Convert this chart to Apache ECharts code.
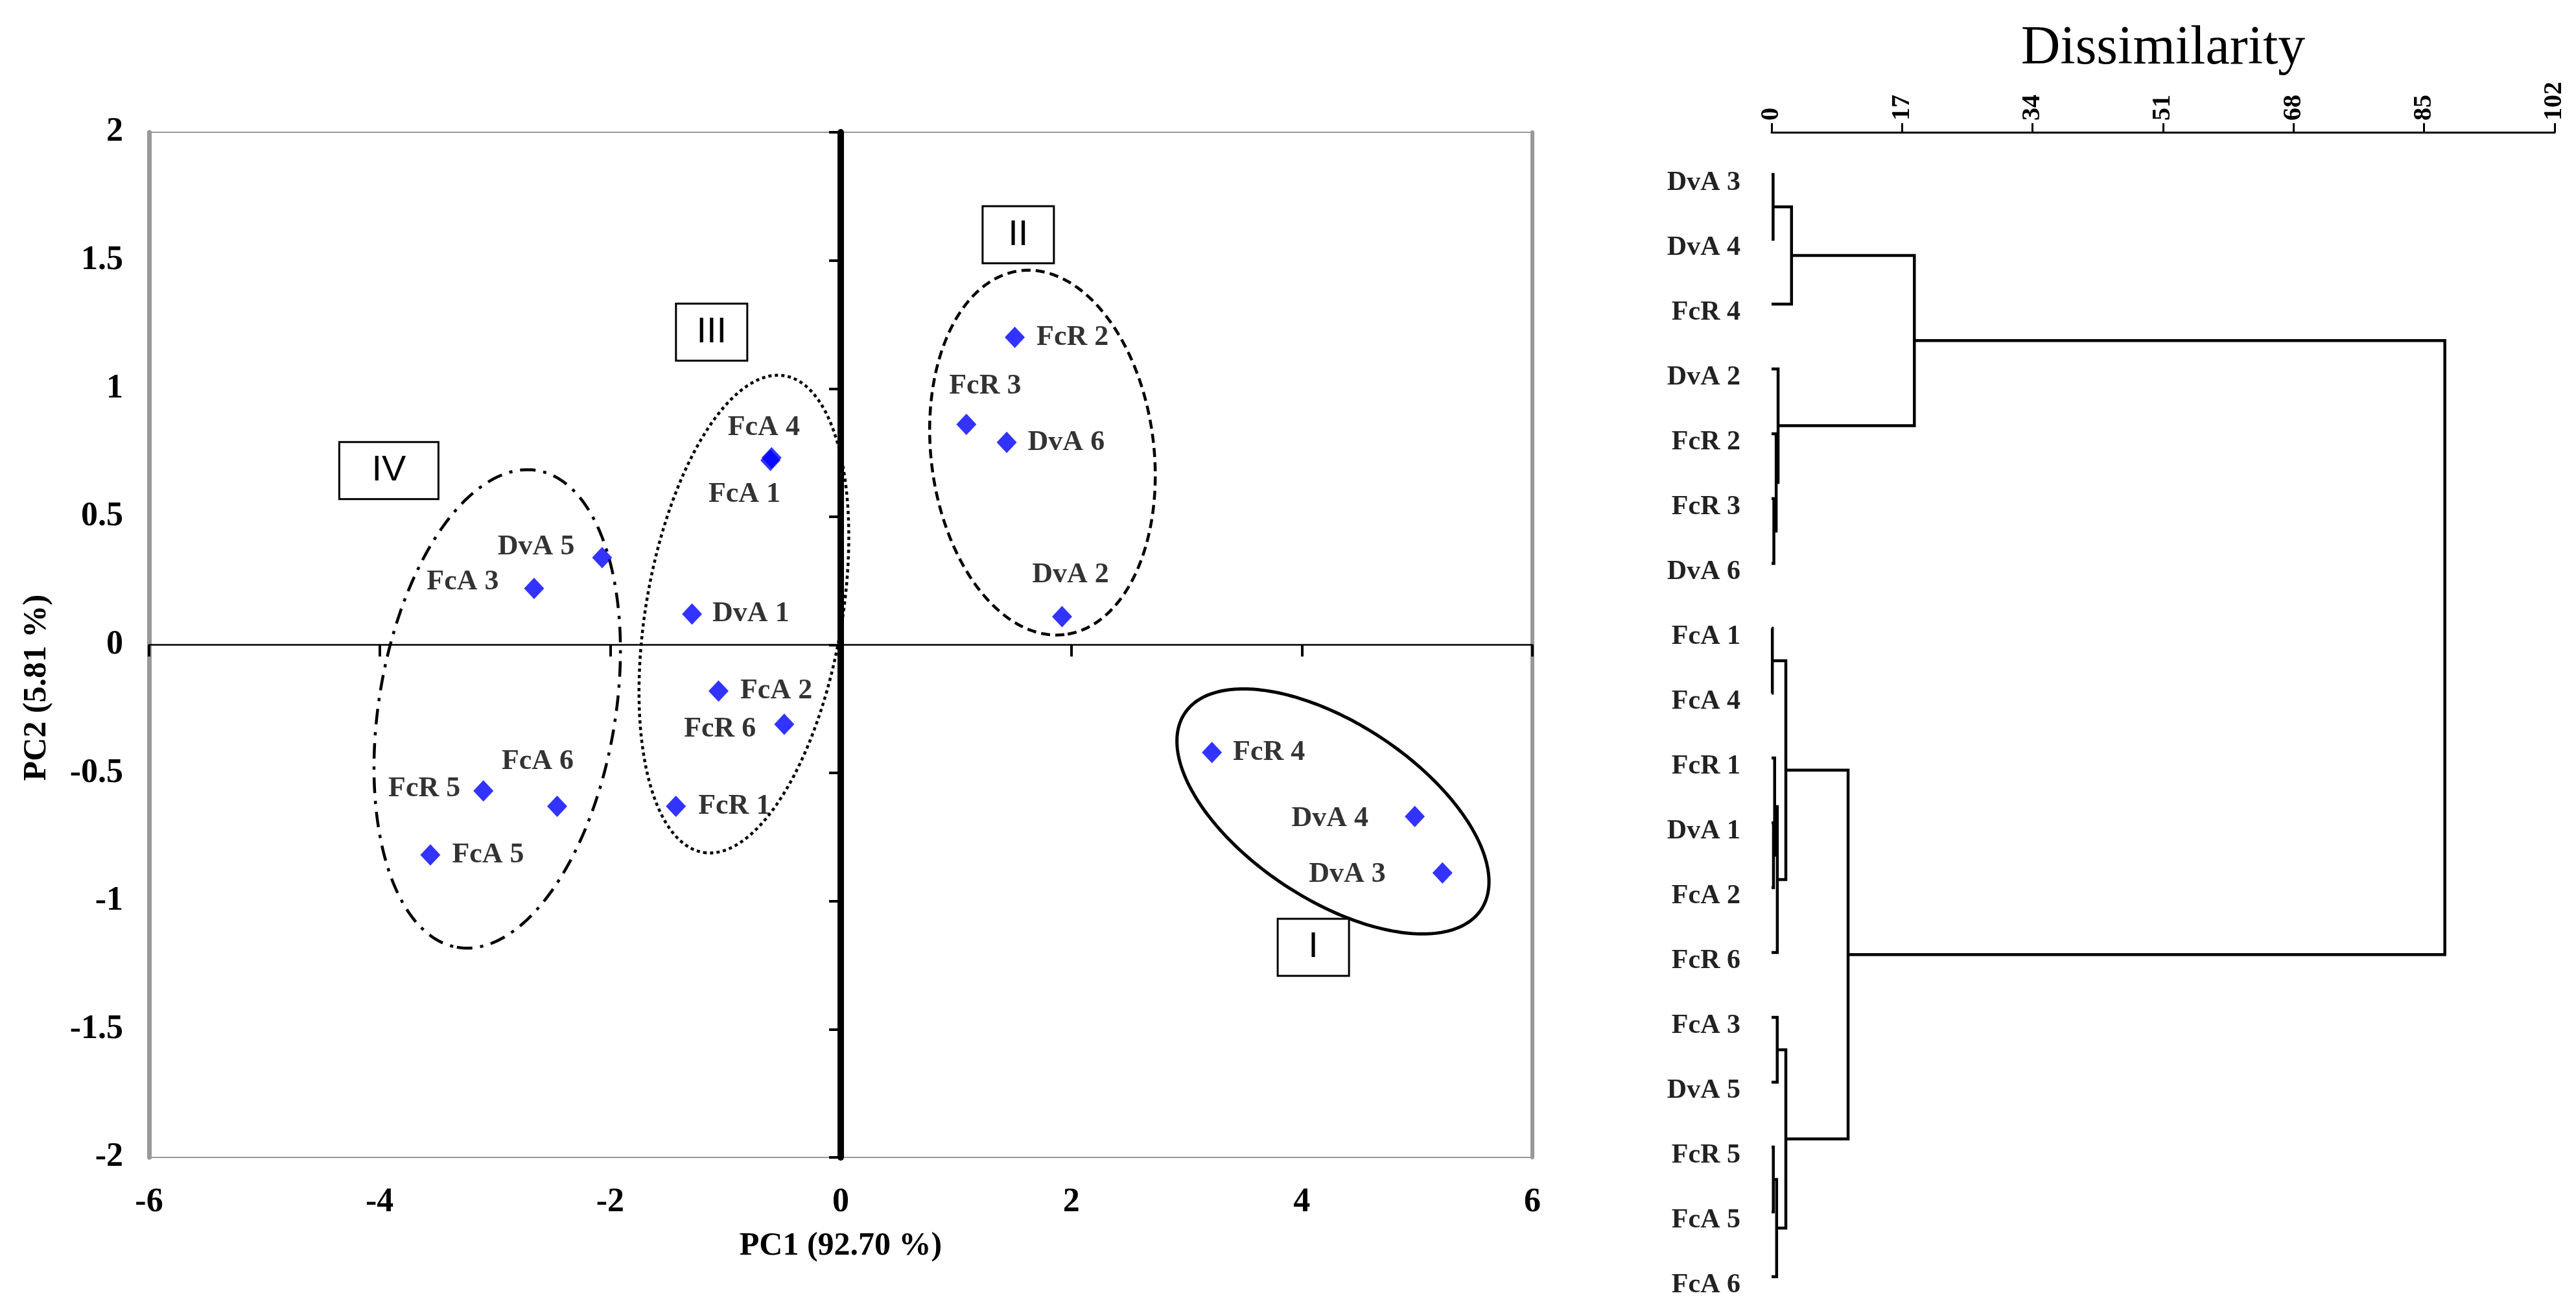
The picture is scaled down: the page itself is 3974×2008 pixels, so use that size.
<!DOCTYPE html>
<html><head><meta charset="utf-8">
<script src="https://cdn.jsdelivr.net/npm/echarts@6/dist/echarts.min.js"></script>
<style>html,body{margin:0;padding:0;background:#fff}#c{width:3974px;height:2008px}</style>
</head><body><div id="c"></div>
<script>
// ---------- PCA score plot data ----------
const pcaNames = ['FcR 2','FcR 3','DvA 6','DvA 2','FcA 4','FcA 1','DvA 1','FcA 2','FcR 6','FcR 1','DvA 5','FcA 3','FcR 5','FcA 6','FcA 5','FcR 4','DvA 4','DvA 3'];
const pc1 = [1.51, 1.09, 1.44, 1.92, -0.60, -0.61, -1.29, -1.06, -0.49, -1.43, -2.07, -2.66, -3.10, -2.46, -3.56, 3.22, 4.98, 5.22];
const pc2 = [1.20, 0.86, 0.79, 0.11, 0.73, 0.72, 0.12, -0.18, -0.31, -0.63, 0.34, 0.22, -0.57, -0.63, -0.82, -0.42, -0.67, -0.89];
const pc1Ticks = [-6, -4, -2, 0, 2, 4, 6];
const pc2Ticks = [-2, -1.5, -1, -0.5, 0, 0.5, 1, 1.5, 2];

// cluster ellipses (data units): centre and two conjugate semi-axis vectors
const clusterNames = ['I', 'II', 'III', 'IV'];
const ellipseCenter = [[4.27, -0.65], [1.75, 0.75], [-0.84, 0.12], [-2.98, -0.25]];
const ellipseAxisU = [[1.29, -0.38], [0.19, -0.71], [-0.35, -0.93], [-0.35, -0.93]];
const ellipseAxisV = [[-0.41, -0.29], [-0.96, -0.05], [0.84, -0.06], [1.01, -0.08]];
const clusterTagAt = [[4.10, -1.18], [1.54, 1.60], [-1.12, 1.22], [-3.92, 0.68]];

// ---------- dendrogram data ----------
const leaves = ['DvA 3','DvA 4','FcR 4','DvA 2','FcR 2','FcR 3','DvA 6','FcA 1','FcA 4','FcR 1','DvA 1','FcA 2','FcR 6','FcA 3','DvA 5','FcR 5','FcA 5','FcA 6'];
// [child a, child b, dissimilarity]; ids >= leaves.length are earlier merges
const merges = [
  [0, 1, 0.2], [18, 2, 2.6], [5, 6, 0.3], [4, 20, 0.6], [3, 21, 0.85], [19, 22, 18.6],
  [7, 8, 0.1], [10, 11, 0.25], [9, 25, 0.4], [26, 12, 0.75], [24, 27, 1.86],
  [13, 14, 0.74], [15, 16, 0.23], [30, 17, 0.66], [29, 31, 1.86], [28, 32, 9.97],
  [23, 33, 87.7]
];
const dissimTicks = [0, 17, 34, 51, 68, 85, 102];

// ---------- styles ----------
const labelStyle = {
  'FcR 2': {p: 'right', d: 18}, 'FcR 3': {p: 'top', d: 20, o: [29, 0]},
  'DvA 6': {p: 'right', d: 17}, 'DvA 2': {p: 'top', d: 26, o: [13, 0]},
  'FcA 4': {p: 'top', d: 8, o: [-12, 0]}, 'FcA 1': {p: 'bottom', d: 14, o: [-40, 0]},
  'DvA 1': {p: 'right', d: 16}, 'FcA 2': {p: 'right', d: 18},
  'FcR 6': {p: 'left', d: 28, o: [0, 8]}, 'FcR 1': {p: 'right', d: 19},
  'DvA 5': {p: 'left', d: 27, o: [0, -16]}, 'FcA 3': {p: 'left', d: 39, o: [0, -10]},
  'FcR 5': {p: 'left', d: 20, o: [0, -3]}, 'FcA 6': {p: 'top', d: 30, o: [-30, 0]},
  'FcA 5': {p: 'right', d: 18}, 'FcR 4': {p: 'right', d: 17},
  'DvA 4': {p: 'left', d: 56, o: [0, 3]}, 'DvA 3': {p: 'left', d: 72, o: [0, 2]}
};
const ellipseDash = [null, [14, 8], [5, 5], [24, 12, 5, 12]];
const tagWidth = {'I': 110, 'II': 110, 'III': 110, 'IV': 153};
const serif = 'Liberation Serif';

// dendrogram node coordinates from merges
const nodeH = leaves.map(() => 0);
const nodeY = leaves.map((_, i) => i);
merges.forEach(m => { nodeH.push(m[2]); nodeY.push((nodeY[m[0]] + nodeY[m[1]]) / 2); });

const chart = echarts.init(document.getElementById('c'), null, {renderer: 'canvas'});

const pcaPoints = pcaNames.map((n, i) => {
  const s = labelStyle[n];
  return {
    name: n, value: [pc1[i], pc2[i]],
    label: {show: true, position: s.p, distance: s.d, offset: s.o || [0, 0]}
  };
});

const option = {
  backgroundColor: '#ffffff',
  animation: false,
  grid: [
    {left: 230, right: 1610, top: 204, bottom: 223, show: true, borderColor: '#999', borderWidth: 2, backgroundColor: '#fff'},
    {left: 2733, right: 33, top: 269, bottom: 39}
  ],
  xAxis: [
    {gridIndex: 0, type: 'value', position: 'bottom', min: pc1Ticks[0], max: pc1Ticks[pc1Ticks.length - 1], interval: 2,
     axisLine: {show: false, onZero: false}, axisTick: {show: false}, splitLine: {show: false},
     axisLabel: {margin: 44, fontFamily: serif, fontWeight: 'bold', fontSize: 52, color: '#000'},
     name: 'PC1 (92.70 %)', nameLocation: 'middle', nameGap: 112,
     nameTextStyle: {fontFamily: serif, fontWeight: 'bold', fontSize: 50, color: '#000'}},
    {gridIndex: 0, type: 'value', position: 'bottom', min: pc1Ticks[0], max: pc1Ticks[pc1Ticks.length - 1], interval: 2,
     axisLine: {show: true, onZero: true, lineStyle: {color: '#000', width: 2.5}},
     axisTick: {show: true, length: 18, lineStyle: {color: '#000', width: 4}},
     axisLabel: {show: false}, splitLine: {show: false}},
    {gridIndex: 1, type: 'value', position: 'top', min: dissimTicks[0], max: dissimTicks[dissimTicks.length - 1], interval: 17,
     offset: 65,
     axisLine: {show: true, onZero: false, lineStyle: {color: '#000', width: 3}},
     axisTick: {show: true, length: 14, lineStyle: {color: '#000', width: 3}},
     splitLine: {show: false},
     axisLabel: {rotate: -90, margin: 18, fontFamily: serif, fontWeight: 'bold', fontSize: 40, color: '#000'},
     name: 'Dissimilarity', nameLocation: 'middle', nameGap: 84,
     nameTextStyle: {fontFamily: serif, fontSize: 84, color: '#000'}}
  ],
  yAxis: [
    {gridIndex: 0, type: 'value', position: 'left', min: pc2Ticks[0], max: pc2Ticks[pc2Ticks.length - 1], interval: 0.5,
     axisLine: {show: true, onZero: false, lineStyle: {color: '#999', width: 7}},
     axisTick: {show: false}, splitLine: {show: false},
     axisLabel: {margin: 40, fontFamily: serif, fontWeight: 'bold', fontSize: 52, color: '#000'},
     name: 'PC2 (5.81 %)', nameLocation: 'middle', nameGap: 148,
     nameTextStyle: {fontFamily: serif, fontWeight: 'bold', fontSize: 50, color: '#000', padding: [0, 132, 0, 0]}},
    {gridIndex: 0, type: 'value', position: 'left', min: pc2Ticks[0], max: pc2Ticks[pc2Ticks.length - 1], interval: 0.5,
     axisLine: {show: true, onZero: true, lineStyle: {color: '#000', width: 10}},
     axisTick: {show: true, length: 18, lineStyle: {color: '#000', width: 4}},
     axisLabel: {show: false}, splitLine: {show: false}},
    {gridIndex: 0, type: 'value', position: 'right', min: pc2Ticks[0], max: pc2Ticks[pc2Ticks.length - 1], interval: 0.5,
     axisLine: {show: true, onZero: false, lineStyle: {color: '#999', width: 6}},
     axisTick: {show: false}, axisLabel: {show: false}, splitLine: {show: false}},
    {gridIndex: 1, type: 'value', position: 'left', min: 0, max: leaves.length - 1, interval: 1, inverse: true,
     axisLine: {show: false, onZero: false}, axisTick: {show: false}, splitLine: {show: false},
     axisLabel: {margin: 48, formatter: v => (leaves[v] ? '{leaf|' + leaves[v] + '}' : ''),
                 rich: {leaf: {fontFamily: serif, fontWeight: 'bold', fontSize: 42, color: '#222', padding: [26, 0, 0, 0]}}}}
  ],
  series: [
    {
      type: 'custom', xAxisIndex: 0, yAxisIndex: 0, z: 2, silent: true,
      data: ellipseCenter.map(c => c.slice()),
      renderItem: (params, api) => {
        const i = params.dataIndex;
        const c = ellipseCenter[i], u = ellipseAxisU[i], v = ellipseAxisV[i];
        const pts = [];
        for (let k = 0; k <= 240; k++) {
          const t = k / 240 * Math.PI * 2;
          pts.push(api.coord([c[0] + u[0] * Math.cos(t) + v[0] * Math.sin(t),
                              c[1] + u[1] * Math.cos(t) + v[1] * Math.sin(t)]));
        }
        return {type: 'polyline', shape: {points: pts},
                style: {stroke: '#000', fill: null, lineWidth: i === 0 ? 5 : 4.5, lineDash: ellipseDash[i] || null}};
      }
    },
    {
      type: 'custom', xAxisIndex: 0, yAxisIndex: 0, z: 4, silent: true,
      data: clusterTagAt.map(c => c.slice()),
      renderItem: (params, api) => {
        const n = clusterNames[params.dataIndex];
        const p = api.coord([api.value(0), api.value(1)]);
        const w = tagWidth[n], h = 88;
        return {type: 'group', children: [
          {type: 'rect', shape: {x: p[0] - w / 2, y: p[1] - h / 2, width: w, height: h},
           style: {fill: '#fff', stroke: '#000', lineWidth: 3}},
          {type: 'text', x: p[0], y: p[1],
           style: {text: n, fill: '#000', font: '56px "Liberation Sans"', align: 'center', verticalAlign: 'middle'}}
        ]};
      }
    },
    {
      type: 'scatter', xAxisIndex: 0, yAxisIndex: 0, z: 5,
      symbol: 'diamond', symbolSize: [31, 33],
      itemStyle: {color: '#0000ff'},
      label: {formatter: '{b}', fontFamily: serif, fontWeight: 'bold', fontSize: 44, color: '#000'},
      data: pcaPoints
    },
    {
      type: 'custom', xAxisIndex: 2, yAxisIndex: 3, z: 3, silent: true,
      data: merges.map((m, i) => [m[2], nodeY[leaves.length + i]]),
      renderItem: (params, api) => {
        const m = merges[params.dataIndex];
        const a = m[0], b = m[1], h = m[2];
        const pts = [
          api.coord([nodeH[a], nodeY[a]]), api.coord([h, nodeY[a]]),
          api.coord([h, nodeY[b]]), api.coord([nodeH[b], nodeY[b]])
        ];
        return {type: 'polyline', shape: {points: pts}, style: {stroke: '#000', fill: null, lineWidth: 4.5}};
      }
    }
  ]
};
chart.setOption(option);
</script>
</body></html>
